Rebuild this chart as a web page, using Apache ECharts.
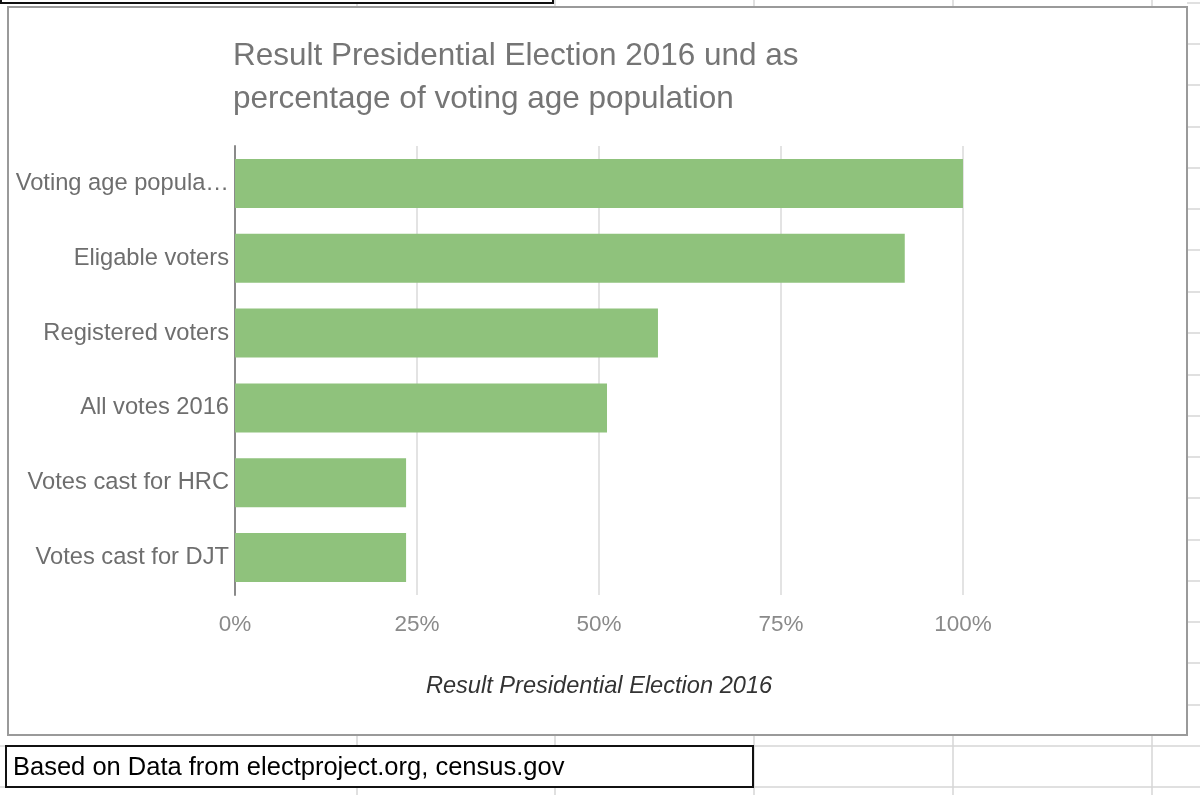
<!DOCTYPE html>
<html>
<head>
<meta charset="utf-8">
<script src="https://cdn.jsdelivr.net/npm/echarts@6/dist/echarts.min.js"></script>
<style>
html,body{margin:0;padding:0;background:#fff;}
#chart{width:1200px;height:795px;}
</style>
</head>
<body>
<div id="chart"></div>
<script>
const categories = ["Voting age population","Eligable voters","Registered voters","All votes 2016","Votes cast for HRC","Votes cast for DJT"];
const values = [100, 92.0, 58.1, 51.1, 23.5, 23.5];
const xTicks = [0, 25, 50, 75, 100];
const chartTitle = "Result Presidential Election 2016 und as\npercentage of voting age population";
const axisTitle = "Result Presidential Election 2016";
const sourceNote = "Based on Data from electproject.org, census.gov";

const FONT = '"Liberation Sans", Arial, sans-serif';
const sheetLine = '#d6d6d6';
const rowYs = [3,44,85,127,168,209,250,292,333,375,416,457,498,540,581,622,663,705,746,787];
const colXs = [357,555,754,953,1152];

const graphics = [];
// spreadsheet grid (behind chart)
rowYs.forEach(y => graphics.push({type:'line', z:-10, silent:true, shape:{x1:(y > 740 ? 0 : 1187), y1:y, x2:1200, y2:y}, style:{stroke:sheetLine, lineWidth:1.5}}));
colXs.forEach(x => graphics.push({type:'line', z:-10, silent:true, shape:{x1:x,y1:0,x2:x,y2:795}, style:{stroke:sheetLine, lineWidth:1.5}}));
// chart box (white) with grey border
graphics.push({type:'rect', z:-5, silent:true, shape:{x:8,y:7,width:1179,height:728}, style:{fill:'#fff', stroke:'#9a9a9a', lineWidth:2}});
// top black box edge
graphics.push({type:'rect', z:-5, silent:true, shape:{x:1,y:-10,width:552,height:13}, style:{fill:'#fff', stroke:'#111', lineWidth:2}});
// bottom note box
graphics.push({type:'rect', z:-5, silent:true, shape:{x:6,y:746,width:747,height:41}, style:{fill:'#fff', stroke:'#111', lineWidth:2}});
graphics.push({type:'text', z:5, silent:true, left:13, top:755, style:{text:sourceNote, fill:'#000', font:'25.5px ' + FONT}});

const chart = echarts.init(document.getElementById('chart'), null, {renderer:'canvas'});
chart.setOption({
  animation:false,
  backgroundColor:'transparent',
  title:{
    text:chartTitle,
    left:228, top:30,
    textStyle:{color:'#757575', fontSize:31.5, fontWeight:'normal', fontFamily:FONT, lineHeight:43}
  },
  grid:{left:235, right:237, top:146, bottom:200, containLabel:false},
  xAxis:{
    type:'value', min:0, max:100, interval:25,
    axisLine:{show:false}, axisTick:{show:false},
    splitLine:{show:true, lineStyle:{color:'#dadada', width:1.5}},
    axisLabel:{formatter: v => xTicks.includes(v) ? v + '%' : '', color:'#8a8a8a', fontSize:22.5, fontFamily:FONT, margin:18},
    name:axisTitle, nameLocation:'middle', nameGap:79,
    nameTextStyle:{color:'#333', fontSize:23.6, fontStyle:'italic', fontFamily:FONT}
  },
  yAxis:{
    type:'category', data:categories, inverse:true,
    axisLine:{show:true, lineStyle:{color:'#8a8a8a', width:2}},
    axisTick:{show:false},
    splitLine:{show:false},
    axisLabel:{color:'#6e6e6e', fontSize:23.7, fontFamily:FONT, margin:6, width:216, overflow:'truncate', ellipsis:'…'}
  },
  series:[{
    type:'bar', data:values, barWidth:'65.5%',
    itemStyle:{color:'#8fc27c'}, z:1
  }],
  graphic:graphics
});
</script>
</body>
</html>
